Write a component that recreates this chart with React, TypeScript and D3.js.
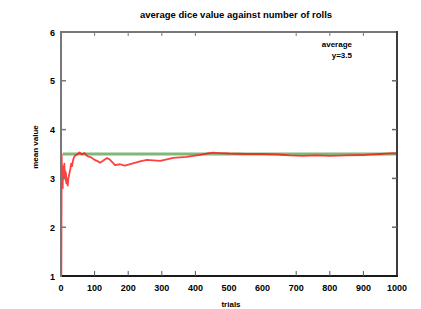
import React from "react";
import * as d3 from "d3";

const trials = [1, 2, 3, 4, 5, 6, 7, 8, 9, 10, 11, 12, 13, 14, 15, 16, 18, 20, 22, 25, 28, 30, 33, 36, 40, 45, 50, 55, 60, 65, 70, 75, 80, 90, 100, 110, 116, 125, 137, 146, 161, 176, 190, 214, 235, 256, 275, 295, 315, 334, 354, 374, 394, 414, 434, 453, 473, 500, 550, 600, 646, 680, 720, 760, 800, 850, 905, 950, 990, 1000];
const meanValues = [1.0, 3.5, 3.0, 3.25, 2.8, 3.17, 3.0, 3.25, 3.1, 3.3, 3.1, 3.0, 3.15, 2.95, 3.1, 2.9, 3.0, 2.85, 3.0, 3.1, 3.2, 3.3, 3.25, 3.38, 3.45, 3.48, 3.5, 3.53, 3.5, 3.5, 3.52, 3.48, 3.45, 3.43, 3.38, 3.35, 3.32, 3.36, 3.42, 3.38, 3.27, 3.29, 3.26, 3.31, 3.35, 3.38, 3.37, 3.36, 3.39, 3.42, 3.43, 3.44, 3.46, 3.48, 3.51, 3.53, 3.52, 3.51, 3.5, 3.5, 3.49, 3.47, 3.46, 3.47, 3.46, 3.47, 3.48, 3.5, 3.52, 3.51];
const averageValue = 3.5;
const xTickLabels = [0, 100, 200, 300, 400, 500, 600, 700, 800, 900, 1000];
const xTickMarks = [100, 200, 300, 400, 700, 800, 900];
const yTickLabels = [1, 2, 3, 4, 5, 6];
const yTickMarks = [2, 3, 4, 5];
const title = "average dice value against number of rolls";
const xLabel = "trials";
const yLabel = "mean value";
const legendLines = ["average", "y=3.5"];

export default function App() {
  const W = 421, H = 309;
  const left = 61, right = 397, top = 32, bottom = 276;
  const x = d3.scaleLinear().domain([0, 1000]).range([left, right]);
  const y = d3.scaleLinear().domain([1, 6]).range([bottom, top]);
  const pts = trials.map((t, i) => [t, meanValues[i]] as [number, number]);
  const line = d3.line<[number, number]>().x(d => x(d[0])).y(d => y(d[1]));
  const font = "'Liberation Sans', Arial, sans-serif";
  return (
    <svg width={W} height={H} style={{ position: "absolute", left: 0, top: 0 }} fontFamily={font}>
      <rect width={W} height={H} fill="#fff" />
      <text x={236} y={18} fontSize={9.5} fontWeight="bold" textAnchor="middle">{title}</text>
      <line x1={x(0) + 2} x2={x(1000)} y1={y(averageValue)} y2={y(averageValue)} stroke="#80b87a" strokeWidth={3} />
      <path d={line(pts) || ""} fill="none" stroke="#ff1010" strokeOpacity={0.8} strokeWidth={1.8} strokeLinejoin="round" />
      <line x1={left} x2={right} y1={top} y2={top} stroke="#777" strokeWidth={2} />
      <line x1={right} x2={right} y1={top - 1} y2={bottom + 1} stroke="#3c3c3c" strokeWidth={2} />
      <line x1={left} x2={right + 1} y1={bottom} y2={bottom} stroke="#1a1a1a" strokeWidth={2} />
      <line x1={left} x2={left} y1={top - 1} y2={bottom + 1} stroke="#777" strokeWidth={2} />
      {xTickMarks.map(t => (
        <g key={"xt" + t}>
          <line x1={x(t)} x2={x(t)} y1={bottom} y2={bottom - 5} stroke="#555" strokeWidth={1} />
          <line x1={x(t)} x2={x(t)} y1={top} y2={top + 4} stroke="#777" strokeWidth={1} />
        </g>
      ))}
      {yTickMarks.map(v => (
        <g key={"yt" + v}>
          <line x1={left} x2={left + 5} y1={y(v)} y2={y(v)} stroke="#777" strokeWidth={1.5} />
          <line x1={right} x2={right - 5} y1={y(v)} y2={y(v)} stroke="#666" strokeWidth={1.5} />
        </g>
      ))}
      {xTickLabels.map(t => (
        <text key={"xl" + t} x={x(t)} y={291} fontSize={9} fontWeight="bold" textAnchor="middle">{t}</text>
      ))}
      {yTickLabels.map(v => (
        <text key={"yl" + v} x={55} y={y(v) + 3.5} fontSize={9} fontWeight="bold" textAnchor="end">{v}</text>
      ))}
      <text x={231} y={307} fontSize={8} fontWeight="bold" textAnchor="middle">{xLabel}</text>
      <text transform="translate(38,147) rotate(-90)" fontSize={8} fontWeight="bold" textAnchor="middle">{yLabel}</text>
      {legendLines.map((s, i) => (
        <text key={s} x={352} y={47 + i * 11} fontSize={8} fontWeight="bold" textAnchor="end">{s}</text>
      ))}
    </svg>
  );
}
